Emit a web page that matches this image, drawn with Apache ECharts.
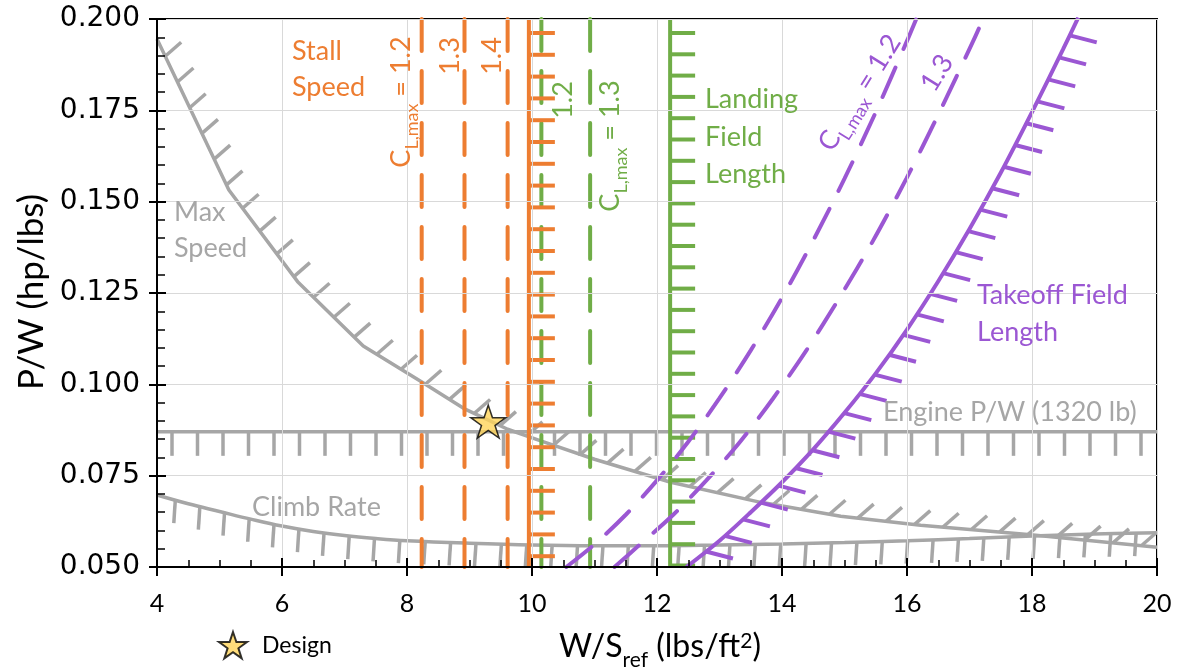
<!DOCTYPE html>
<html><head><meta charset="utf-8">
<script src="https://cdn.jsdelivr.net/npm/echarts@6/dist/echarts.min.js"></script>
<style>html,body{margin:0;padding:0;background:#fff}#c{width:1177px;height:670px}</style>
</head><body><div id="c"></div>
<script>
// ---------------- data ----------------
const maxSpeed = [[4.0,0.1945],[5.15,0.1532],[6.25,0.1281],[7.3,0.1105],[8.25,0.1005],[8.93,0.0932],[9.61,0.0877],[10.14,0.0845],[11.0,0.0795],[12.22,0.0732],[13.66,0.0677],[14.94,0.0639],[16.22,0.0614],[17.98,0.0588],[20.0,0.0554]];
const climbRate = [[4,0.0697],[4.5,0.0673],[5,0.0652],[5.5,0.0631],[6,0.0612],[6.5,0.0597],[7,0.0586],[7.5,0.0578],[8,0.0572],[9,0.0565],[10,0.0560],[11,0.0558],[12,0.0558],[13,0.0560],[14,0.0563],[15,0.0567],[16,0.0572],[17,0.0578],[18,0.0585],[19,0.0590],[20,0.0594]];
const enginePW = 0.087;
const stallCL = ['1.2','1.3','1.4'];
const stallWS = [8.235, 8.92, 9.61];
const stallLimitWS = 9.95;
const landingCL = ['1.2','1.3'];
const landingWS = [10.15, 10.93];
const landingLimitWS = 12.21;
const takeoffCL12 = [[10.55,0.0500],[11.0,0.0562],[11.5,0.0643],[12.0,0.0737],[12.5,0.0843],[13.0,0.0962],[13.5,0.1093],[14.0,0.1237],[14.5,0.1394],[15.0,0.1563],[15.5,0.1745],[16.0,0.1940],[16.15,0.2001]];
const takeoffCL13 = [[11.32,0.0500],[11.73,0.0562],[12.26,0.0643],[12.79,0.0737],[13.33,0.0843],[13.86,0.0962],[14.39,0.1093],[14.92,0.1237],[15.46,0.1394],[15.99,0.1563],[16.52,0.1745],[17.06,0.1940],[17.22,0.2001]];
const takeoffLimit = [[12.47,0.0500],[13.0,0.0572],[13.5,0.0650],[14.0,0.0732],[14.5,0.0822],[15.0,0.0922],[15.5,0.1030],[16.0,0.1150],[16.5,0.1282],[17.0,0.1425],[17.5,0.1579],[18.0,0.1745],[18.5,0.1918],[18.74,0.2004]];
const design = [9.3, 0.0898];
const xMin = 4, xMax = 20, xStep = 2;
const yMin = 0.05, yMax = 0.2, yStep = 0.025;

// ---------------- styles ----------------
const GREY = '#A6A6A6', ORANGE = '#ED7D31', GREEN = '#70AD47', PURPLE = '#9B57D3';
const FONT = 'Lato';
const STAR = 'path://M50,0 L61.8,35.1 L98.8,35.1 L68.9,56.8 L80.3,91.9 L50,70.2 L19.7,91.9 L31.1,56.8 L1.2,35.1 L38.2,35.1 Z';

function vline(x){ return [[x, yMax],[x, yMin]]; }

function lineSeries(name, data, color, width, dashed, z, smooth){
  return {type:'line', name, data, showSymbol:false, symbol:'none', silent:true, z:z||2,
    smooth: smooth||false,
    lineStyle:{color, width, type: dashed ? [32,20] : 'solid', cap: dashed ? 'round':'butt'}};
}
function hatchSeries(name, pts, color, width, spacing, start, vec, z){
  return {type:'custom', name, silent:true, clip:true, z:z||2, data:[pts[0]],
    renderItem:function(params, api){
      const px = pts.map(p => api.coord(p));
      const children = [];
      let next = start, acc = 0;
      for (let i=1;i<px.length;i++){
        const x0=px[i-1][0], y0=px[i-1][1], x1=px[i][0], y1=px[i][1];
        const seg = Math.hypot(x1-x0, y1-y0);
        while (next <= acc + seg){
          const t=(next-acc)/seg;
          const bx=x0+t*(x1-x0), by=y0+t*(y1-y0);
          children.push({type:'line', shape:{x1:bx,y1:by,x2:bx+vec[0],y2:by+vec[1]}, style:{stroke:color,lineWidth:width}});
          next += spacing;
        }
        acc += seg;
      }
      return {type:'group', children};
    }};
}

const series = [];
series.push(lineSeries('Max Speed', maxSpeed, GREY, 3.5, false, 2));
series.push(hatchSeries('Max Speed h', maxSpeed, GREY, 3.5, 28.5, 19, [16,-14], 2));
series.push(lineSeries('Climb Rate', climbRate, GREY, 3.5, false, 2, 0.4));
series.push(hatchSeries('Climb Rate h', climbRate, GREY, 3.5, 25.4, 19, [-1.5,23], 2));
const engineLine = [[xMin, enginePW],[xMax, enginePW]];
series.push(lineSeries('Engine', engineLine, GREY, 3.5, false, 2));
series.push(hatchSeries('Engine h', engineLine, GREY, 3.5, 25.5, 15, [0,24], 2));
stallWS.forEach((w,i)=>series.push(lineSeries('Stall '+stallCL[i], vline(w), ORANGE, 4, true, 4)));
series.push(lineSeries('Stall limit', vline(stallLimitWS), ORANGE, 4, false, 4));
series.push(hatchSeries('Stall h', vline(stallLimitWS), ORANGE, 4, 21.8, 14, [26,0], 4));
landingWS.forEach((w,i)=>series.push(lineSeries('Landing '+landingCL[i], vline(w), GREEN, 4, true, 3)));
series.push(lineSeries('Landing limit', vline(landingLimitWS), GREEN, 4, false, 3));
series.push(hatchSeries('Landing h', vline(landingLimitWS), GREEN, 4, 21.3, 14, [25,0], 3));
series.push(lineSeries('Takeoff 1.2', takeoffCL12, PURPLE, 4, true, 4, 0.3));
series.push(lineSeries('Takeoff 1.3', takeoffCL13, PURPLE, 4, true, 4, 0.3));
series.push(lineSeries('Takeoff limit', takeoffLimit, PURPLE, 4, false, 4, 0.3));
series.push(hatchSeries('Takeoff h', takeoffLimit, PURPLE, 4, 24.5, 25, [27,7], 4));
series.push({type:'scatter', name:'Design', data:[design], symbol:STAR, symbolSize:[35,33], z:10, silent:true,
  itemStyle:{color:'#FFD45A', borderColor:'#000', borderWidth:1.5}});

function txt(text, x, y, color, opts){
  opts = opts||{};
  return {type:'text', x, y, rotation: opts.rot||0, z:20, silent:true,
    style:{text, fill:color, fontFamily:FONT, fontSize:opts.size||27,
      align: opts.align||'left', textAlign: opts.align||'left',
      verticalAlign:'middle', textVerticalAlign:'middle', rich: opts.rich}};
}
function clRich(color){
  return {m:{fontFamily:FONT, fontSize:27, lineHeight:28, verticalAlign:'top', fill:color, color},
          s:{fontFamily:FONT, fontSize:18, lineHeight:18, padding:[15,0,0,0], verticalAlign:'top', fill:color, color}};
}
const R = Math.PI/2, P = 58*Math.PI/180;
const graphics = [
  txt('Stall', 292, 51, ORANGE), txt('Speed', 292, 87, ORANGE),
  txt('Max', 174, 212, GREY), txt('Speed', 174, 248, GREY),
  txt('Landing', 705, 99, GREEN), txt('Field', 705, 137, GREEN), txt('Length', 705, 174, GREEN),
  txt('Takeoff Field', 977, 295, PURPLE), txt('Length', 977, 332, PURPLE),
  txt('Engine P/W (1320 lb)', 883, 412, GREY),
  txt('Climb Rate', 252, 507, GREY),
  txt('{m|C}{s|L,max}{m| = ' + stallCL[0] + '}', 402, 102, ORANGE, {rot:R, align:'center', rich:clRich(ORANGE)}),
  txt(stallCL[1], 450, 56, ORANGE, {rot:R, align:'center'}),
  txt(stallCL[2], 492, 56, ORANGE, {rot:R, align:'center'}),
  txt(landingCL[0], 563, 100, GREEN, {rot:R, align:'center'}),
  txt('{m|C}{s|L,max}{m| = ' + landingCL[1] + '}', 611, 146, GREEN, {rot:R, align:'center', rich:clRich(GREEN)}),
  txt('{m|C}{s|L,max}{m| = 1.2}', 860, 93, PURPLE, {rot:P, align:'center', rich:clRich(PURPLE)}),
  txt('1.3', 937, 73, PURPLE, {rot:P, align:'center'}),
  txt('P/W (hp/lbs)', 32, 292, '#000', {rot:R, align:'center', size:35}),
  {type:'text', x:660, y:648, z:20, silent:true, style:{text:'{a|W/S}{s|ref}{a| (lbs/ft}{p|2}{a|)}', align:'center', textAlign:'center', verticalAlign:'middle', textVerticalAlign:'middle',
    rich:{a:{fontFamily:FONT, fontSize:32, lineHeight:34, verticalAlign:'top', color:'#000', fill:'#000'},
          s:{fontFamily:FONT, fontSize:21, lineHeight:21, padding:[19,0,0,0], verticalAlign:'top', color:'#000', fill:'#000'},
          p:{fontFamily:FONT, fontSize:21, lineHeight:21, padding:[0,0,0,0], verticalAlign:'top', color:'#000', fill:'#000'}}}}
];

const option = {
  animation:false,
  backgroundColor:'#fff',
  grid:{left:157, right:20, top:19, bottom:103, show:true, borderColor:'#000', borderWidth:2, backgroundColor:'transparent'},
  legend:{data:[{name:'Design', icon:STAR}], left:213, top:626, itemWidth:28, itemHeight:27, itemGap:0,
    textStyle:{fontFamily:FONT, fontSize:23, color:'#000', padding:[0,0,0,10]}, selectedMode:false},
  xAxis:[
    {type:'value', min:xMin, max:xMax, interval:xStep, position:'bottom', z:5,
     axisLine:{show:true, onZero:false, lineStyle:{color:'#000', width:2}},
     axisTick:{show:true, inside:true, length:9, lineStyle:{color:'#000', width:2}},
     minorTick:{show:true, splitNumber:4, length:7, lineStyle:{color:'#000', width:1.5}},
     splitLine:{show:true, lineStyle:{color:'#D9D9D9', width:1}},
     axisLabel:{fontFamily:FONT, fontSize:25, color:'#000', margin:24}},
    {type:'value', min:xMin, max:xMax, interval:xStep, position:'bottom', z:5,
     axisLine:{show:false}, axisTick:{show:true, inside:false, length:9, lineStyle:{color:'#000', width:2}},
     axisLabel:{show:false}, splitLine:{show:false}}
  ],
  yAxis:[
    {type:'value', min:yMin, max:yMax, interval:yStep, position:'left', z:5,
     axisLine:{show:true, onZero:false, lineStyle:{color:'#000', width:2}},
     axisTick:{show:true, inside:true, length:9, lineStyle:{color:'#000', width:2}},
     minorTick:{show:true, splitNumber:5, length:8, lineStyle:{color:'#000', width:1.5}},
     splitLine:{show:true, lineStyle:{color:'#D9D9D9', width:1}},
     axisLabel:{fontFamily:'DejaVu Sans', fontSize:28, color:'#000', margin:17, formatter:v=>v.toFixed(3)}},
    {type:'value', min:yMin, max:yMax, interval:yStep, position:'left', z:5,
     axisLine:{show:false}, axisTick:{show:true, inside:false, length:8, lineStyle:{color:'#000', width:2}},
     axisLabel:{show:false}, splitLine:{show:false}}
  ],
  series,
  graphic: graphics
};
const chart = echarts.init(document.getElementById('c'), null, {renderer:'canvas'});
chart.setOption(option);
</script></body></html>
